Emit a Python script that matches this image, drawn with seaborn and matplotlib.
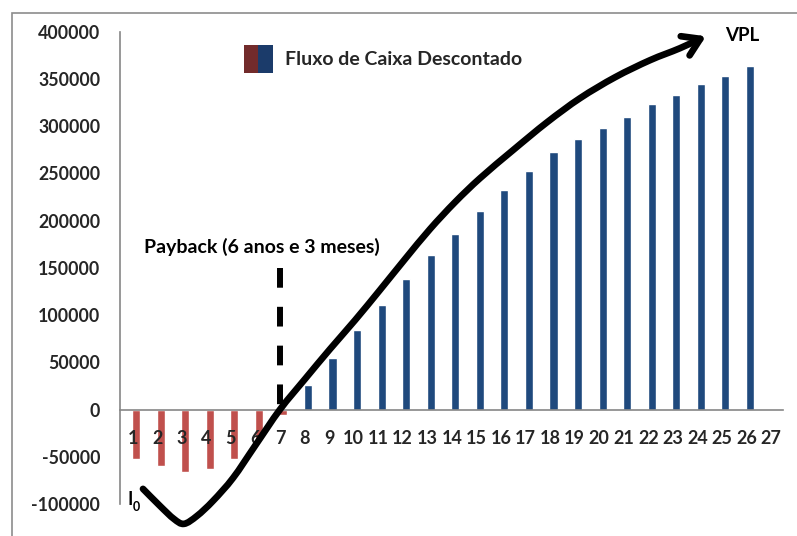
import numpy as np
import pandas as pd
import matplotlib
matplotlib.use("Agg")
import matplotlib.pyplot as plt
from matplotlib.patches import FancyArrowPatch, Patch, Rectangle
from matplotlib.path import Path
from matplotlib.legend_handler import HandlerTuple
import seaborn as sns

# Discounted cash flow per period (cumulative), period 27 has no value
periods = [str(i) for i in range(1, 28)]
flow_periods = [str(i) for i in range(1, 27)]
flow_values = [-52000, -60000, -66000, -63000, -52000, -32000, -6000,
               26000, 55000, 84000, 111000, 138000, 163000, 186000,
               210000, 232000, 252000, 272000, 286000, 298000, 310000,
               323000, 333000, 344000, 353000, 363000]
y_ticks = [-100000, -50000, 0, 50000, 100000, 150000, 200000,
           250000, 300000, 350000, 400000]

payback_label = "Payback (6 anos e 3 meses)"
payback_index = 6          # category position of period 7
payback_top = 150000
legend_label = "Fluxo de Caixa Descontado"

# Knots of the hand-drawn NPV trend arrow (category position, value)
trend_x = [0.42, 1.11, 1.68, 2.09, 2.62, 3.27, 4.09, 4.98, 6.0, 7.02, 8.04,
           9.06, 10.07, 11.09, 12.11, 13.13, 14.15, 15.49, 16.88, 18.22,
           19.65, 21.07, 22.29, 23.35]
trend_y = [-84000, -102000, -115800, -121000, -112600, -96800, -72400, -38600,
           0, 32300, 64000, 94600, 126400, 159100, 190900, 219400, 244800,
           274400, 304000, 329400, 351600, 369600, 382300, 395000]

RED = "#c0504d"
BLUE = "#1f497d"
AXIS_GREY = "#868686"

sns.set_style("white")
plt.rcParams["font.family"] = ["Lato", "DejaVu Sans"]
plt.rcParams["font.weight"] = "bold"
plt.rcParams["axes.unicode_minus"] = False

df = pd.DataFrame({"periodo": flow_periods, "fluxo": flow_values})
df["sinal"] = np.where(df["fluxo"] < 0, "neg", "pos")

fig = plt.figure(figsize=(7.97, 5.36), dpi=100)
ax = fig.add_axes([120.4 / 797, 1 - 504 / 536, (783.3 - 120.4) / 797, (504 - 31.5) / 536])

sns.barplot(data=df, x="periodo", y="fluxo", hue="sinal", order=periods,
            palette={"neg": RED, "pos": BLUE}, dodge=False, width=0.33,
            saturation=1, legend=False, ax=ax)

# bars sit slightly to the right of the category centre
for p in ax.patches:
    p.set_x(p.get_x() + 0.14)

ax.set_xlim(-0.5, len(periods) - 0.5)
ax.set_ylim(y_ticks[0], y_ticks[-1])
ax.set_xlabel("")
ax.set_ylabel("")
ax.set_axisbelow(False)

# axes styling
for s in ["top", "right"]:
    ax.spines[s].set_visible(False)
ax.spines["left"].set_color(AXIS_GREY)
ax.spines["bottom"].set_color(AXIS_GREY)
ax.spines["bottom"].set_position(("data", 0))
ax.spines["left"].set_linewidth(1.2)
ax.spines["bottom"].set_linewidth(1.2)

ax.set_yticks(y_ticks)
ax.set_yticklabels([str(v) for v in y_ticks])
ax.tick_params(axis="y", direction="out", length=4.5, width=1.2, color=AXIS_GREY,
               pad=10, labelsize=12.8)
ax.set_xticks(range(len(periods)))
ax.set_xticklabels(periods)
ax.set_xticks(np.arange(-0.5, len(periods)), minor=True)
ax.tick_params(axis="x", which="major", length=0, pad=15, labelsize=13)
ax.tick_params(axis="x", which="minor", direction="out", length=4, width=1.2, color=AXIS_GREY)
for lab in ax.get_xticklabels() + ax.get_yticklabels():
    lab.set_fontweight("bold")

# payback marker
ax.plot([payback_index, payback_index], [payback_top, 0], color="black", lw=4.3,
        linestyle=(0, (3.3, 3.2)), solid_capstyle="butt", dash_capstyle="butt", zorder=4)
ax.text(5.27, 171800, payback_label, ha="center", va="center", fontsize=14,
        fontweight="bold", color="black")

# NPV trend arrow: Catmull-Rom through the knots, drawn as cubic Bezier
pts = np.column_stack([trend_x, trend_y]).astype(float)
ext = np.vstack([pts[0], pts, pts[-1]])
verts = [tuple(pts[0])]
codes = [Path.MOVETO]
for i in range(1, len(ext) - 2):
    p0, p1, p2, p3 = ext[i - 1], ext[i], ext[i + 1], ext[i + 2]
    c1 = p1 + (p2 - p0) / 6.0
    c2 = p2 - (p3 - p1) / 6.0
    verts += [tuple(c1), tuple(c2), tuple(p2)]
    codes += [Path.CURVE4] * 3
arrow = FancyArrowPatch(path=Path(verts, codes),
                        arrowstyle="->,head_length=0.6,head_width=0.38",
                        mutation_scale=20, lw=4.8, color="black",
                        capstyle="round", joinstyle="round", clip_on=False, zorder=5)
ax.add_patch(arrow)

ax.text(24.82, 396000, "VPL", ha="center", va="center", fontsize=13.5,
        fontweight="bold", color="black")
ax.text(-0.11, -95700, "I", ha="center", va="center", fontsize=13,
        fontweight="bold", color="black", clip_on=False)
ax.text(0.17, -103500, "0", ha="center", va="center", fontsize=9,
        fontweight="bold", color="black", clip_on=False)

# legend with a split red/blue swatch
h = (Patch(facecolor="#722b2b", edgecolor="none"), Patch(facecolor="#1b3b6a", edgecolor="none"))
ax.legend([h], [legend_label], handler_map={tuple: HandlerTuple(ndivide=None, pad=0)},
          loc="center left", bbox_to_anchor=(244 / 797, 1 - 59 / 536),
          bbox_transform=fig.transFigure, frameon=False, borderpad=0, borderaxespad=0,
          handlelength=1.49, handleheight=1.84, handletextpad=0.6,
          prop={"family": "Lato", "weight": "bold", "size": 14})

# chart-area border
fig.patches.append(Rectangle((11.5 / 797, -0.1), 2, 1.1 - 12.5 / 536, transform=fig.transFigure,
                             fill=False, edgecolor="#8c8c8c", lw=1.2, zorder=0))

fig.savefig("out.png", dpi=100, facecolor="white")
